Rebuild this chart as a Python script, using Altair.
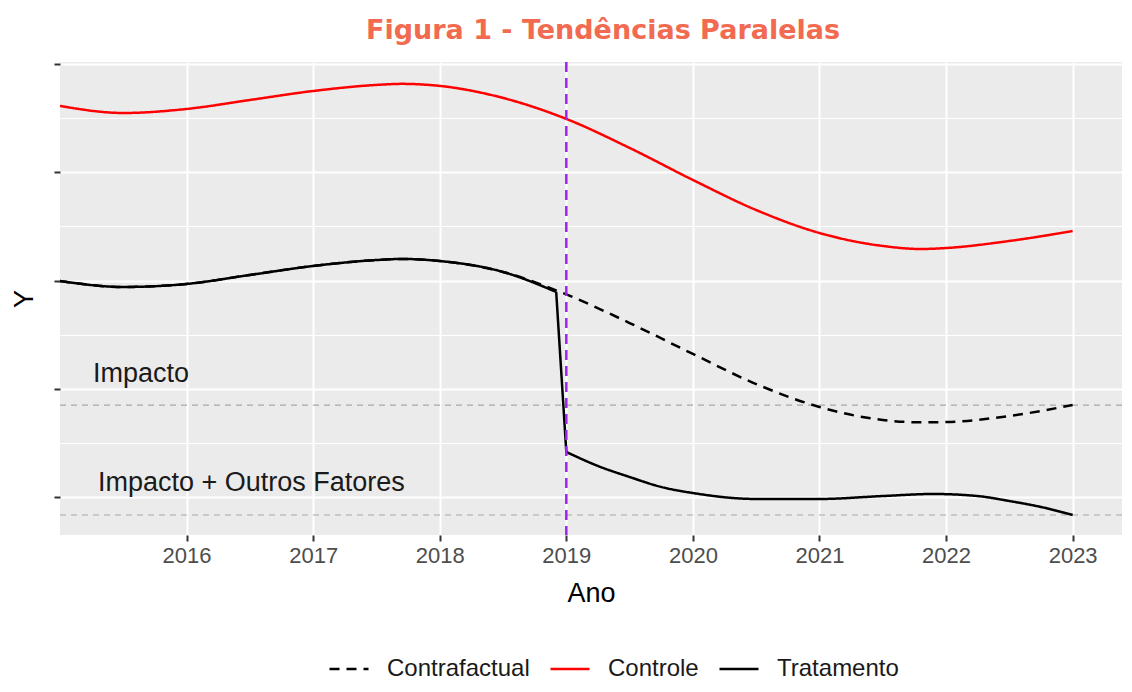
import altair as alt
import pandas as pd

# ---------------- data ----------------
series = ["Contrafactual", "Controle", "Tratamento"]
series_colors = ["#000000", "#FF0000", "#000000"]

ctrl_years = [2015.0, 2015.5, 2016.0, 2016.5, 2017.0, 2017.5, 2017.7, 2018.0, 2018.5,
              2019.0, 2019.5, 2020.0, 2020.5, 2021.0, 2021.5, 2021.8, 2022.0, 2022.5, 2023.0]
ctrl_vals = [3.614, 3.549, 3.586, 3.669, 3.752, 3.808, 3.818, 3.799, 3.688,
             3.494, 3.226, 2.930, 2.652, 2.440, 2.320, 2.292, 2.301, 2.366, 2.458]

cf_years = [2015.0, 2015.5, 2016.0, 2016.5, 2017.0, 2017.5, 2017.7, 2018.0, 2018.5,
            2019.0, 2019.5, 2020.0, 2020.5, 2021.0, 2021.5, 2021.8, 2022.0, 2022.5, 2023.0]
cf_vals = [1.996, 1.941, 1.969, 2.052, 2.135, 2.190, 2.200, 2.181, 2.080,
           1.872, 1.608, 1.322, 1.044, 0.832, 0.712, 0.690, 0.693, 0.749, 0.850]

# Tratamento, in three pieces: before, the drop, after
trt_pre_years = [2015.0, 2015.5, 2016.0, 2016.5, 2017.0, 2017.5, 2017.7, 2018.0, 2018.5, 2018.92]
trt_pre_vals = [1.996, 1.941, 1.969, 2.052, 2.135, 2.190, 2.200, 2.181, 2.080, 1.895]
trt_drop_years = [2018.92, 2019.0]
trt_drop_vals = [1.895, 0.416]
trt_post_years = [2019.0, 2019.25, 2019.5, 2019.75, 2020.0, 2020.5, 2021.0, 2021.5,
                  2021.9, 2022.25, 2022.5, 2022.75, 2023.0]
trt_post_vals = [0.416, 0.287, 0.185, 0.093, 0.037, -0.018, -0.018, 0.009,
                 0.028, 0.009, -0.037, -0.092, -0.166]

x_ticks = [2016, 2017, 2018, 2019, 2020, 2021, 2022, 2023]
y_ticks = [0, 0.5, 1, 1.5, 2, 2.5, 3, 3.5, 4]

ref_levels = [0.850, -0.166]          # dashed grey reference lines
intervention_year = [2019]

label_texts = ["Impacto", "Impacto + Outros Fatores"]
label_x = [2015.26, 2015.30]
label_y = [1.063, 0.052]

title_text = "Figura 1 - Tendências Paralelas"

# ---------------- build tables ----------------
rows = []
for name, piece, xs, ys in [("Contrafactual", "cf", cf_years, cf_vals),
                            ("Controle", "ctrl", ctrl_years, ctrl_vals),
                            ("Tratamento", "pre", trt_pre_years, trt_pre_vals),
                            ("Tratamento", "drop", trt_drop_years, trt_drop_vals),
                            ("Tratamento", "post", trt_post_years, trt_post_vals)]:
    for a, v in zip(xs, ys):
        rows.append({"ano": a, "valor": v, "serie": name, "parte": piece})
lines_df = pd.DataFrame(rows)
ref_df = pd.DataFrame({"valor": ref_levels})
vline_df = pd.DataFrame({"ano": intervention_year})
text_df = pd.DataFrame({"ano": label_x, "valor": label_y, "txt": label_texts})

FONT = "Liberation Sans"

x_scale = alt.Scale(domain=[2015.0, 2023.39], nice=False, zero=False)
y_scale = alt.Scale(domain=[-0.351, 4.020], nice=False, zero=False)

x_axis = alt.Axis(values=x_ticks, format="d", title="Ano", labelFontSize=22,
                  labelColor="#4D4D4D", labelFont=FONT, titleFont=FONT,
                  titleFontSize=27, titleFontWeight="normal", titleColor="#000000",
                  tickColor="#333333", tickWidth=2, tickSize=6, domain=False,
                  gridColor="#FFFFFF", gridWidth=2, labelPadding=4, titlePadding=14)
y_axis = alt.Axis(values=y_ticks, labels=False, title="Y", titleFont=FONT,
                  titleFontSize=27, titleFontWeight="normal", titleColor="#000000",
                  tickColor="#333333", tickWidth=2, tickSize=6, domain=False,
                  gridColor="#FFFFFF",
                  gridWidth={"condition": {"test": "datum.value % 1 === 0", "value": 2}, "value": 1},
                  tickOpacity={"condition": {"test": "datum.value % 1 === 0", "value": 1}, "value": 0},
                  titlePadding=15)

X = alt.X("ano:Q", scale=x_scale, axis=x_axis)
Y = alt.Y("valor:Q", scale=y_scale, axis=y_axis)

refs = alt.Chart(ref_df).mark_rule(color="#A8A8A8", strokeWidth=1.2,
                                   strokeDash=[6, 5]).encode(y=Y)

legend = alt.Legend(title=None, orient="none", direction="horizontal",
                    legendX=268, legendY=586, symbolType="stroke",
                    symbolSize=1521, symbolStrokeWidth=2.5, labelFontSize=24,
                    labelFont=FONT, labelColor="#1A1A1A", labelOffset=17,
                    columnPadding=15)

lines = alt.Chart(lines_df).mark_line(strokeWidth=2.5, interpolate="monotone").encode(
    x=X, y=Y,
    color=alt.Color("serie:N", scale=alt.Scale(domain=series, range=series_colors),
                    legend=legend),
    strokeDash=alt.StrokeDash("serie:N",
                              scale=alt.Scale(domain=series, range=[[10, 7], [1, 0], [1, 0]]),
                              legend=legend),
    detail="parte:N",
)

vline = alt.Chart(vline_df).mark_rule(color="#A020F0", strokeWidth=2.5,
                                      strokeDash=[10, 6]).encode(x=X)

texts = alt.Chart(text_df).mark_text(align="left", baseline="alphabetic", fontSize=27,
                                     font=FONT, color="#1A1A1A").encode(
    x=X, y=Y, text="txt:N")

chart = alt.layer(refs, lines, vline, texts).properties(
    width=1062, height=473,
    title=alt.TitleParams(title_text, font="DejaVu Sans", fontSize=27, fontWeight="bold",
                          color="#F26A50", anchor="middle", offset=16, dx=12),
    autosize=alt.AutoSizeParams(type="none"),
    padding={"left": 52, "top": 54, "right": 2, "bottom": 149},
).configure_view(fill="#EBEBEB", strokeWidth=0)

chart.save("out.html", embed_options={"renderer": "svg", "actions": False})
